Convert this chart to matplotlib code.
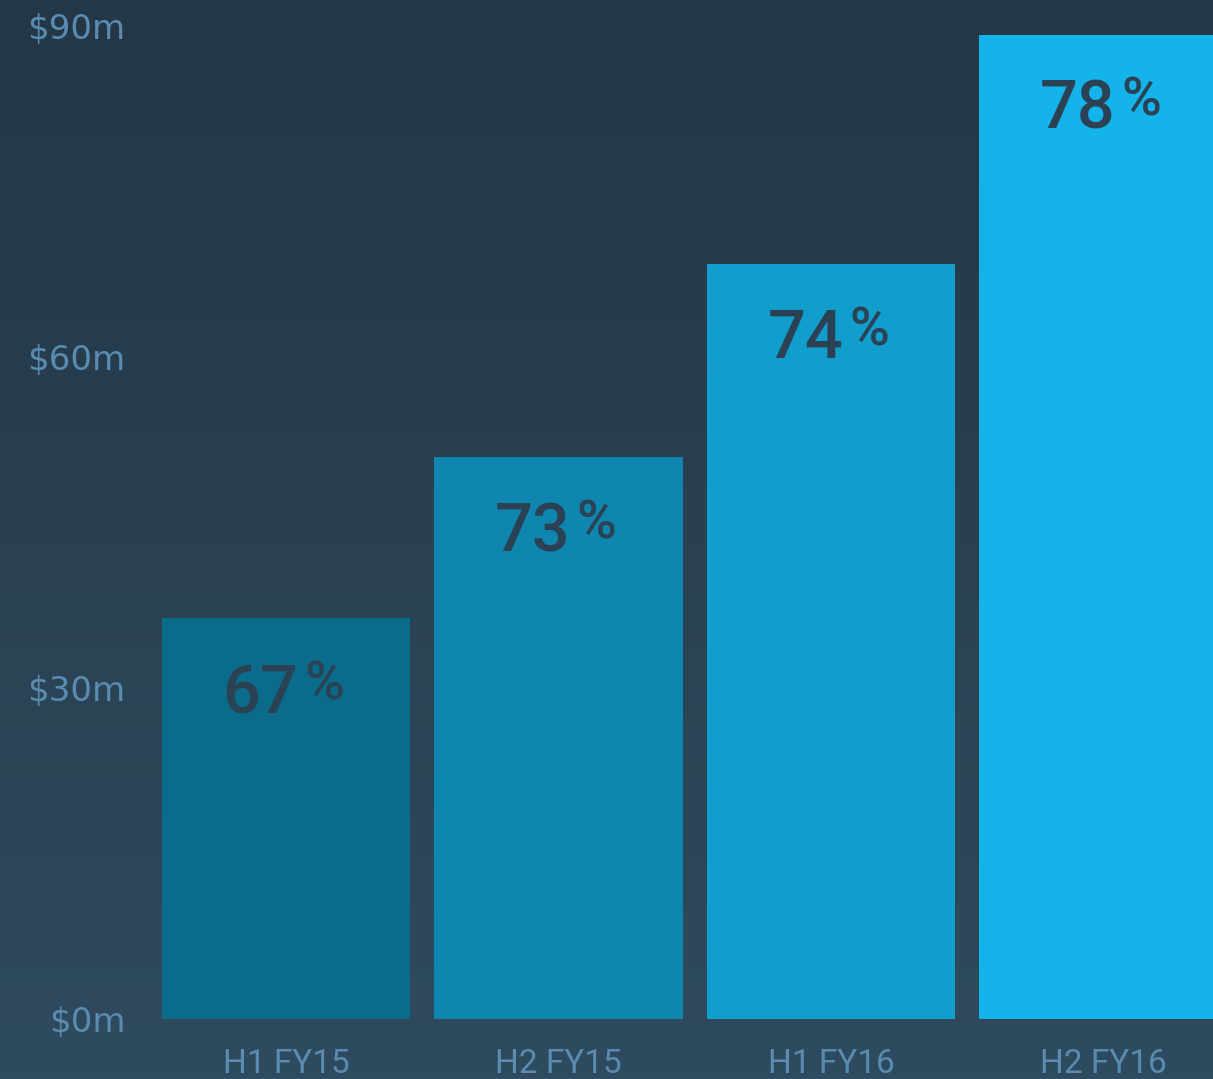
import numpy as np
import matplotlib
matplotlib.use("Agg")
from matplotlib import pyplot as plt
from matplotlib.colors import LinearSegmentedColormap

# Revenue per half-year (in $m) and the share shown on each bar
periods = ["H1 FY15", "H2 FY15", "H1 FY16", "H2 FY16"]
revenue_m = [36.3, 50.9, 68.4, 89.2]
share_pct = [67, 73, 74, 78]
y_ticks = [0, 30, 60, 90]
y_tick_labels = ["$0m", "$30m", "$60m", "$90m"]

bar_colors = ["#0b6b8b", "#0f86b0", "#119ecc", "#14b4ea"]
label_color = "#5a8bb0"
value_color = "#2b4154"

plt.rcParams["font.family"] = ["Roboto", "DejaVu Sans"]


def draw_background(fig):
    """Вертикальний градієнт фону."""
    bg = fig.add_axes([0, 0, 1, 1], zorder=-1)
    cmap = LinearSegmentedColormap.from_list("bg", ["#2f4b5f", "#233746"])
    grad = np.linspace(0, 1, 256).reshape(-1, 1)
    bg.imshow(grad, aspect="auto", cmap=cmap, origin="lower", extent=[0, 1, 0, 1])
    bg.axis("off")


def main():
    fig = plt.figure(figsize=(12.13, 10.79), dpi=100)
    draw_background(fig)

    bottom = 1 - 1019 / 1079
    ax = fig.add_axes([0, bottom, 1, 1 - bottom])
    ax.patch.set_alpha(0)

    x = np.arange(len(periods))
    ax.bar(x, revenue_m, width=0.912, color=bar_colors, zorder=2)

    # Підписи з відсотками всередині стовпців
    for xi, val, pct in zip(x, revenue_m, share_pct):
        ax.annotate(str(pct), xy=(xi, val), xytext=(12, -94), textcoords="offset pixels",
                    ha="right", va="baseline", fontsize=48, fontweight="medium",
                    color=value_color)
        ax.annotate("%", xy=(xi, val), xytext=(18, -81), textcoords="offset pixels",
                    ha="left", va="baseline", fontsize=39, fontweight="medium",
                    color=value_color)

    ax.set_xlim(-286 / 272.5, 3 + (1213 - 1103.5) / 272.5)
    ax.set_ylim(0, 1019 / (331 / 30))

    ax.set_xticks(x)
    ax.set_xticklabels(periods, fontsize=24, color=label_color)
    ax.set_yticks(y_ticks)
    ax.set_yticklabels(y_tick_labels, fontsize=24.5, color=label_color,
                       family=["DejaVu Sans"])
    ax.tick_params(axis="x", length=0, pad=21)
    ax.tick_params(axis="y", length=0, pad=-90.5)
    for spine in ax.spines.values():
        spine.set_visible(False)

    fig.savefig("out.png", dpi=100)


if __name__ == "__main__":
    main()
